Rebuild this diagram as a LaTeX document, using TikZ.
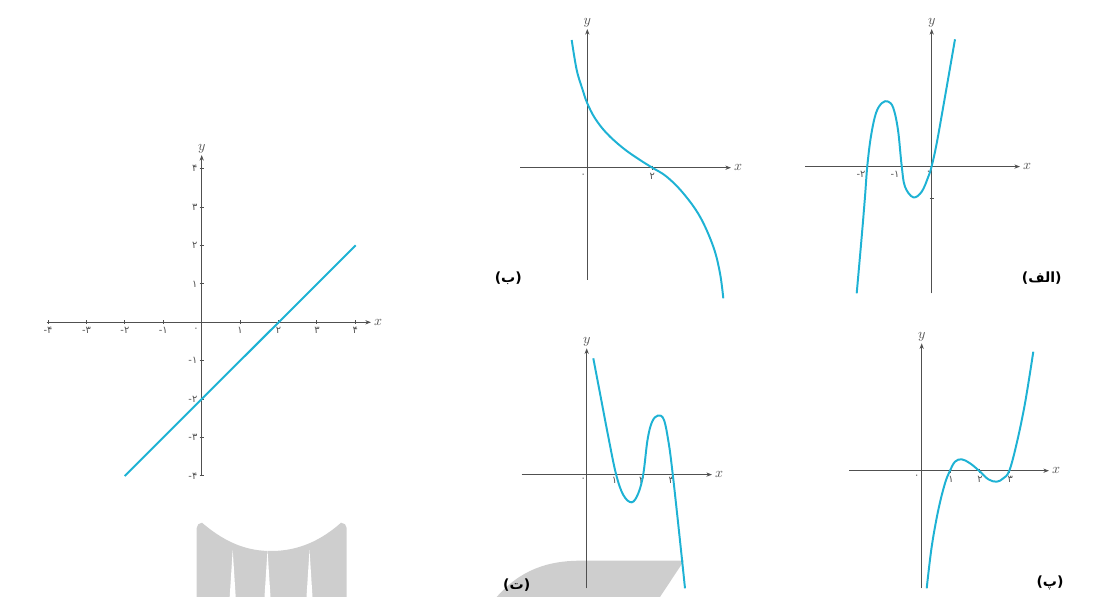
\documentclass[tikz,border=0pt]{standalone}
\usepackage{fontspec}
\usepackage{tikz}
\usetikzlibrary{arrows.meta, positioning}
\newfontfamily\arabicfont[Script=Arabic]{DejaVu Sans}
\newfontfamily\digitfont{DejaVu Sans}
\newcommand\neglbl[1]{\hbox{-}\hbox{#1}}
\definecolor{curvecyan}{RGB}{30,178,212}
\definecolor{axisgray}{RGB}{80,80,80}
\definecolor{markgray}{RGB}{206,206,206}
\tikzset{
    axisline/.style={-{Stealth[length=4pt, width=3pt]}, axisgray, line width=0.8pt},
    graphline/.style={curvecyan, line width=1.4pt},
    tickmark/.style={axisgray, line width=0.6pt},
    numlbl/.style={font=\digitfont\fontsize{7}{8}\selectfont, text=axisgray, inner sep=1pt},
    varlbl/.style={font=\fontsize{10}{11}\selectfont, text=axisgray, inner sep=1pt},
    panellbl/.style={font=\arabicfont\bfseries\fontsize{10}{12}\selectfont, inner sep=1pt},
}

\begin{document}
\begin{tikzpicture}[x=0.025cm, y=-0.025cm]
\useasboundingbox (0,0) rectangle (1107,597);

% Grey marks behind the pictures
\fill[markgray] (196.7,597) -- (196.7,528) to[out=90, in=180] (202,522.7)
    .. controls (228,545) and (250,551) .. (271,551)
    .. controls (292,551) and (316,545) .. (341,522.7)
    to[out=0, in=90] (346.7,528) -- (346.7,597) -- cycle;
\foreach \sx in {232.7, 267.5, 309.5}
    \fill[white] (\sx,550) -- (\sx+3,597) -- (\sx-3,597) -- cycle;
\fill[markgray] (496.7,597) .. controls (520,570) and (548,560.7) .. (580,560.7)
    -- (684,560.7) -- (660,597) -- cycle;

% Left graph: y = x - 2
\coordinate (L-xmin) at (46.7,322.3);
\coordinate (L-xmax) at (371,322.3);
\coordinate (L-ymin) at (201.7,475);
\coordinate (L-ymax) at (201.7,155);
\draw[axisline] (L-xmin) -- (L-xmax);
\draw[axisline] (L-ymin) -- (L-ymax);
\node[varlbl, right=1pt of L-xmax] (L-x) {$x$};
\node[varlbl, above=0pt of L-ymax] (L-y) {$y$};
\foreach \k/\lab in {-4/\neglbl{۴}, -3/\neglbl{۳}, -2/\neglbl{۲}, -1/\neglbl{۱}, 1/۱, 2/۲, 3/۳, 4/۴} {
    \draw[tickmark] ({201.7+38.4*\k},320.5) -- ++(0,4);
    \node[numlbl, anchor=north] at ({201.7+38.4*\k},325.5) {\lab};
    \draw[tickmark] (199.7,{322.3-38.4*\k}) -- ++(4,0);
    \node[numlbl, anchor=east] at (199,{322.3-38.4*\k}) {\lab};
}
\node[numlbl] (L-zero) at (196,330) {۰};
\coordinate (L-start) at (124.7,476);
\coordinate (L-end) at (355.7,245.3);
\draw[graphline] (L-start) -- (L-end);

% Panel (ب)
\coordinate (pb-xmin) at (520,167.7);
\coordinate (pb-xmax) at (731,167.7);
\coordinate (pb-ymin) at (587.3,280);
\coordinate (pb-ymax) at (587.3,29);
\draw[axisline] (pb-xmin) -- (pb-xmax);
\draw[axisline] (pb-ymin) -- (pb-ymax);
\node[varlbl, right=1pt of pb-xmax] (pb-x) {$x$};
\node[varlbl, above=0pt of pb-ymax] (pb-y) {$y$};
\draw[tickmark] (652.3,165.7) -- ++(0,4);
\node[numlbl] (pb-two) at (652.3,176.7) {۲};
\node[numlbl] (pb-zero) at (583.3,176) {۰};
\draw[graphline] plot[smooth, tension=0.6] coordinates {(571.7,40) (576.7,70) (582.7,90)
    (587.3,103.3) (595,118.3) (606.7,133.3) (623.3,148.3) (640,160) (652.3,167.7)
    (666.7,176.7) (683.3,193.3) (700,216.7) (713.3,246.7) (720,273.3) (723.3,298.3)};
\node[panellbl] (pb-name) at (508.3,278.3) {(ب)};

% Panel (الف)
\coordinate (pa-xmin) at (805,166.6);
\coordinate (pa-xmax) at (1020,166.6);
\coordinate (pa-ymin) at (931.7,293.3);
\coordinate (pa-ymax) at (931.7,29);
\draw[axisline] (pa-xmin) -- (pa-xmax);
\draw[axisline] (pa-ymin) -- (pa-ymax);
\node[varlbl, right=1pt of pa-xmax] (pa-x) {$x$};
\node[varlbl, above=0pt of pa-ymax] (pa-y) {$y$};
\draw[tickmark] (867.3,164.6) -- ++(0,4);
\draw[tickmark] (901.7,164.6) -- ++(0,4);
\draw[tickmark] (929.7,198) -- ++(4,0);
\node[numlbl] (pa-mtwo) at (861,174.5) {\neglbl{۲}};
\node[numlbl] (pa-mone) at (895,174.5) {\neglbl{۱}};
\node[numlbl] (pa-zero) at (928.5,173) {۰};
\draw[graphline] plot[smooth, tension=0.6] coordinates {(856.7,293.3) (861.7,236.7)
    (865,196.7) (867.3,166) (871,136) (876,113) (882,103) (888,101.5) (893.3,108)
    (898,130) (901.7,166) (905,186.7) (913.3,197.3) (921.7,191.7) (928.3,176.7)
    (931.7,166) (936.7,143.3) (945,96.7) (955,39.3)};
\node[panellbl] (pa-name) at (1041.7,278.3) {(الف)};

% Panel (ت)
\coordinate (pt-xmin) at (521.7,474.6);
\coordinate (pt-xmax) at (712,474.6);
\coordinate (pt-ymin) at (586.7,588.3);
\coordinate (pt-ymax) at (586.7,348.3);
\draw[axisline] (pt-xmin) -- (pt-xmax);
\draw[axisline] (pt-ymin) -- (pt-ymax);
\node[varlbl, right=1pt of pt-xmax] (pt-x) {$x$};
\node[varlbl, above=0pt of pt-ymax] (pt-y) {$y$};
\foreach \tx/\lab in {616/۱, 643.3/۲, 672.7/۳} {
    \draw[tickmark] (\tx,472.6) -- ++(0,4);
    \node[numlbl] at (\tx-1.5,480.5) {\lab};
}
\node[numlbl] (pt-zero) at (583.3,480) {۰};
\draw[graphline] plot[smooth, tension=0.6] coordinates {(593.3,358.3) (600,393.3)
    (608.3,436.7) (616,474) (623.3,495) (631.7,502.3) (638.3,493.3) (643.3,474)
    (647.5,440) (652,422) (658,415.5) (664,420) (669,445) (672.7,474)
    (676.7,510) (681.7,556.7) (685,588.3)};
\node[panellbl] (pt-name) at (516.7,585) {(ت)};

% Panel (پ)
\coordinate (pp-xmin) at (849.3,470.7);
\coordinate (pp-xmax) at (1049,470.7);
\coordinate (pp-ymin) at (921.7,588.3);
\coordinate (pp-ymax) at (921.7,343.3);
\draw[axisline] (pp-xmin) -- (pp-xmax);
\draw[axisline] (pp-ymin) -- (pp-ymax);
\node[varlbl, right=1pt of pp-xmax] (pp-x) {$x$};
\node[varlbl, above=0pt of pp-ymax] (pp-y) {$y$};
\foreach \tx/\lab in {950/۱, 979/۲, 1009.3/۳} {
    \draw[tickmark] (\tx,468.7) -- ++(0,4);
    \node[numlbl] at (\tx+1,479.5) {\lab};
}
\node[numlbl] (pp-zero) at (916.7,477) {۰};
\draw[graphline] plot[smooth, tension=0.6] coordinates {(926.7,588.3) (931.7,546.7)
    (938.3,510) (945,483.3) (950,470.7) (955,461.7) (961.7,459.3) (970,463.3)
    (979,470.7) (988.3,479.3) (996.7,481.7) (1003.3,478.3) (1009.3,470.7)
    (1016.7,443.3) (1025,403.3) (1033.3,351.7)};
\node[panellbl] (pp-name) at (1050,583.3) {(پ)};

\end{tikzpicture}
\end{document}
